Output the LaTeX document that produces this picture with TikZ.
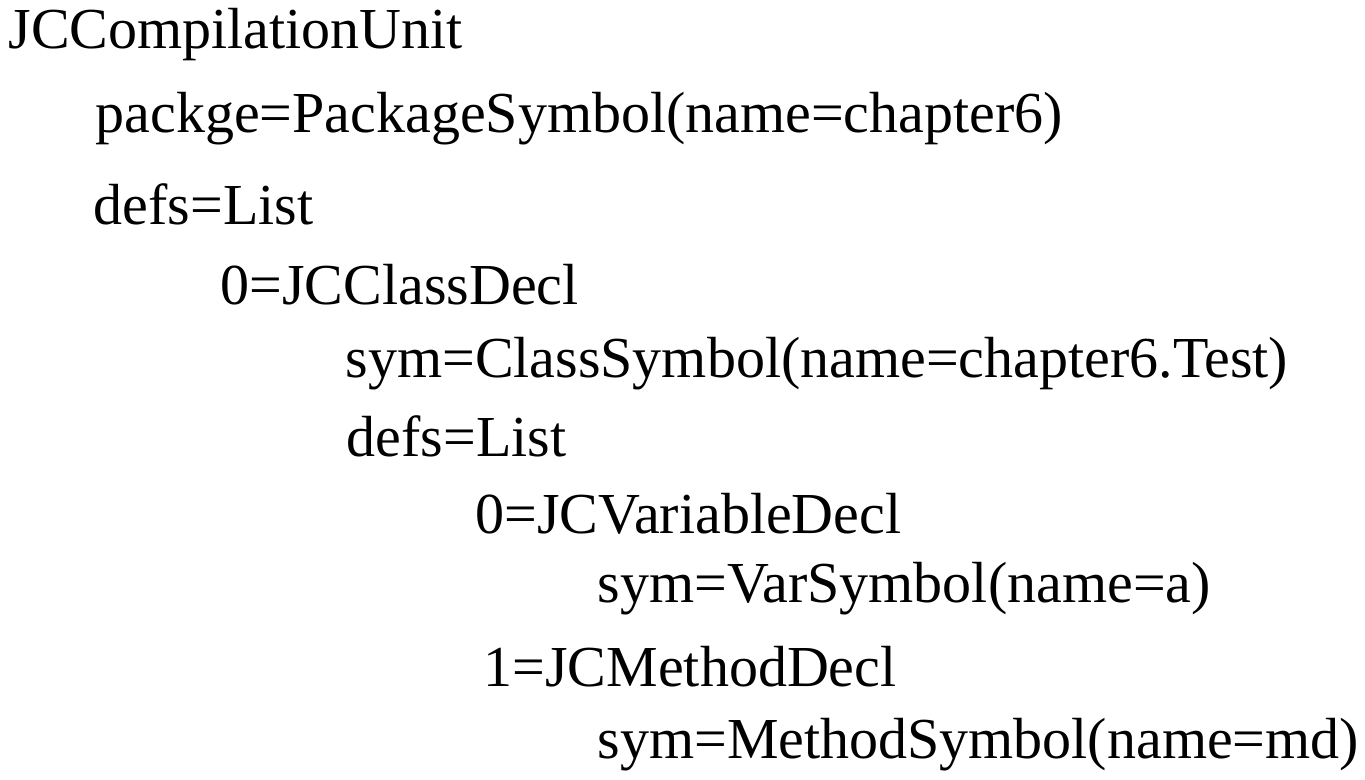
\documentclass[tikz,border=0pt]{standalone}
\usepackage{fontspec}
\setmainfont{Liberation Serif}
\usepackage{tikz}

\begin{document}
\begin{tikzpicture}[
    treeline/.style={
        anchor=base west, inner sep=0pt,
        font=\fontsize{16.5pt}{20pt}\selectfont
    }
]

\useasboundingbox (0,0) rectangle (13.65,-7.80);

% --- compilation unit ---
\node[treeline] (unit) at (0.08, -0.49) {JCCompilationUnit};
\node[treeline] (pkg) at (0.95, -1.33) {packge=PackageSymbol(name=chapter6)};
\node[treeline] (defs) at (0.93, -2.25) {defs=List};

% --- class declaration ---
\node[treeline] (cls) at (2.20, -3.05) {0=JCClassDecl};
\node[treeline] (clssym) at (3.45, -3.78) {sym=ClassSymbol(name=chapter6.Test)};
\node[treeline] (clsdefs) at (3.46, -4.57) {defs=List};

% --- members ---
\node[treeline] (var) at (4.75, -5.33) {0=JCVariableDecl};
\node[treeline] (varsym) at (5.97, -6.03) {sym=VarSymbol(name=a)};
\node[treeline] (meth) at (4.83, -6.87) {1=JCMethodDecl};
\node[treeline] (methsym) at (5.97, -7.58) {sym=MethodSymbol(name=md)};

\end{tikzpicture}
\end{document}
